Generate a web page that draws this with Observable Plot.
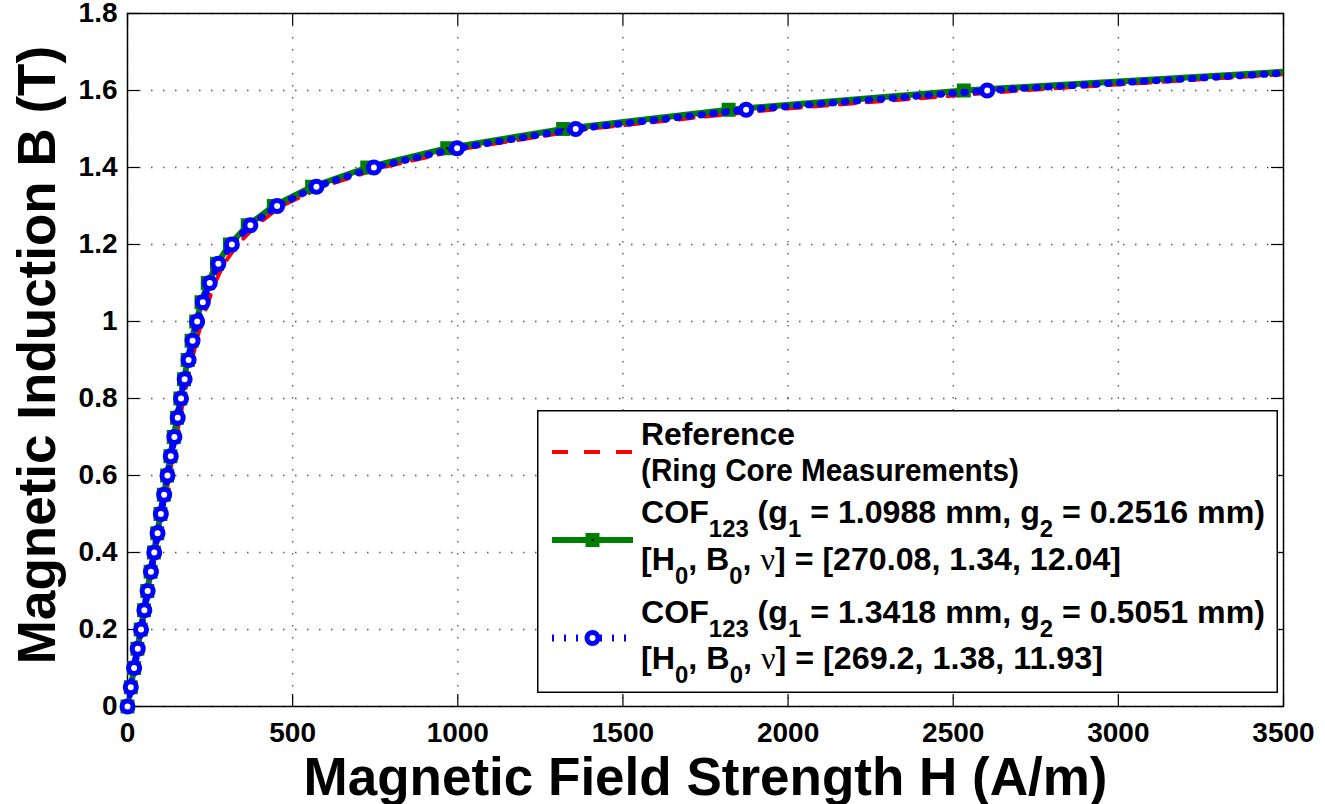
<!DOCTYPE html>
<html><head><meta charset="utf-8">
<script src="https://cdn.jsdelivr.net/npm/d3@7"></script>
<script src="https://cdn.jsdelivr.net/npm/@observablehq/plot@0.6"></script>
<style>
body{margin:0;background:#fff;}
#wrap{position:relative;width:1325px;height:804px;overflow:hidden;}
#legend{position:absolute;left:537px;top:410px;}
#legend text{font-family:'Liberation Sans',Arial,sans-serif;font-weight:bold;white-space:pre;}
</style></head><body><div id="wrap"></div>
<script>
// B levels (T) at which each curve was sampled
const levelsB = [0,0.05,0.1,0.15,0.2,0.25,0.3,0.35,0.4,0.45,0.5,0.55,0.6,0.65,0.7,0.75,0.8,0.85,0.9,0.95,1.0,1.05,1.1,1.15,1.2,1.25,1.3,1.35,1.4,1.45,1.5,1.55,1.6,1.65];
// Reference (ring core measurements), H in A/m
const refH   = [0,11,22,33,43,54,64,75,85,95,106,116,127,137,148,159,170,182,195,209,225,244,265,292,333,390,466,590,770,1025,1390,1950,2700,3650];
// COF123 (g1 = 1.0988 mm, g2 = 0.2516 mm)
const greenH = [0,10,20,30,40,50,60,70,80,90,100,110,120,130,140,150,160,171,182,194,208,224,243,271,310,364,443,559,726,968,1319,1820,2532,3530];
// COF123 (g1 = 1.3418 mm, g2 = 0.5051 mm)
const blueH  = [0,10,20,31,41,51,61,71,81,91,101,111,121,131,142,152,162,173,185,197,211,228,249,275,316,372,453,572,746,998,1357,1873,2603,3600];

const xTicks = [0,500,1000,1500,2000,2500,3000,3500];
const yTicks = [0,0.2,0.4,0.6,0.8,1.0,1.2,1.4,1.6,1.8];
const xLabel = "Magnetic Field Strength H (A/m)";
const yLabel = "Magnetic Induction B (T)";
const legendRef = ["Reference", "(Ring Core Measurements)"];
const legendG = {g1:"1.0988", g2:"0.2516", params:"[270.08, 1.34, 12.04]"};
const legendB = {g1:"1.3418", g2:"0.5051", params:"[269.2, 1.38, 11.93]"};

const W=1325, H=804, mL=127, mR=42, mT=13, mB=98;
const innerW = W-mL-mR, innerH = H-mT-mB;
const rows = hs => hs.map((h,i)=>({H:h, B:levelsB[i]}));
const ref = rows(refH), green = rows(greenH), blue = rows(blueH);
const inView = d => d.H <= 3500;

const plot = Plot.plot({
  width:W, height:H, marginLeft:mL, marginRight:mR, marginTop:mT, marginBottom:mB,
  style:{fontFamily:"'Liberation Sans', Arial, sans-serif", fontSize:"28px", fontWeight:"bold", color:"#000", background:"#fff", overflow:"visible"},
  x:{domain:[0,3500]},
  y:{domain:[0,1.8]},
  marks:[
    Plot.gridX({ticks:xTicks, stroke:"#555", strokeOpacity:1, strokeWidth:1.3, strokeDasharray:"1.5,10.5"}),
    Plot.gridY({ticks:yTicks, stroke:"#555", strokeOpacity:1, strokeWidth:1.3, strokeDasharray:"1.5,10.5"}),
    Plot.frame({stroke:"#000", strokeWidth:1.5}),
    Plot.tickX(xTicks, {x:d=>d, insetTop:innerH-12, stroke:"#000", strokeWidth:1.2}),
    Plot.tickX(xTicks, {x:d=>d, insetBottom:innerH-12, stroke:"#000", strokeWidth:1.2}),
    Plot.tickY(yTicks, {y:d=>d, insetRight:innerW-12, stroke:"#000", strokeWidth:1.2}),
    Plot.tickY(yTicks, {y:d=>d, insetLeft:innerW-12, stroke:"#000", strokeWidth:1.2}),
    Plot.line(ref, {x:"H", y:"B", stroke:"#ff0000", strokeWidth:4, strokeDasharray:"15,12", clip:true}),
    Plot.line(green, {x:"H", y:"B", stroke:"#008000", strokeWidth:6, clip:true}),
    Plot.dot(green.filter(inView), {x:"H", y:"B", symbol:"square", r:7.9, fill:"#008000", stroke:"none"}),
    Plot.dot(green.filter(inView), {x:"H", y:"B", r:1.2, fill:"#000", stroke:"none"}),
    Plot.line(blue, {x:"H", y:"B", stroke:"#0000ff", strokeWidth:7, strokeDasharray:"1.5,10.5", clip:true}),
    Plot.dot(blue.filter(inView), {x:"H", y:"B", r:5.5, stroke:"#0000ff", strokeWidth:5, fill:"#fff"}),
    Plot.axisX({ticks:xTicks, tickSize:0, tickPadding:16, label:null, fontSize:28, fontWeight:"bold", tickFormat:d=>String(d)}),
    Plot.axisY({ticks:yTicks, tickSize:0, tickPadding:10, label:null, fontSize:28, fontWeight:"bold", tickFormat:d=>String(+d.toFixed(1))}),
    Plot.text([xLabel], {frameAnchor:"bottom", lineAnchor:"middle", textAnchor:"middle", dy:72, fontSize:53, fontWeight:"bold"}),
    Plot.text([yLabel], {frameAnchor:"left", lineAnchor:"middle", textAnchor:"middle", rotate:-90, dx:-89, dy:-5, fontSize:53, fontWeight:"bold"})
  ]
});
const wrap = document.getElementById("wrap");
wrap.appendChild(plot);

// Legend
const sub = (s) => `<tspan dy="14" font-size="23">${s}</tspan>`;
const up = (s) => `<tspan dy="-14">${s}</tspan>`;
const fit = (len) => `textLength="${len}" lengthAdjust="spacingAndGlyphs"`;
const cofLine = (y, g1, g2) => `<text x="104" y="${y}" font-size="31" ${fit(624)}>COF${sub("123")}${up(" (g")}${sub("1")}${up(" = "+g1+" mm, g")}${sub("2")}${up(" = "+g2+" mm)")}</text>`;
const parLine = (y, p, len) => `<text x="104" y="${y}" font-size="31" ${fit(len)}>[H${sub("0")}${up(", B")}${sub("0")}${up(", ")}<tspan font-family="'Liberation Serif',serif" font-weight="normal">ν</tspan>] = ${p}</text>`;
const lg = `<svg id="legend" width="741" height="283" xmlns="http://www.w3.org/2000/svg">
<rect x="0.75" y="0.75" width="739.5" height="281.5" fill="#fff" stroke="#000" stroke-width="1.5"/>
<line x1="15" x2="96" y1="42" y2="42" stroke="#ff0000" stroke-width="4" stroke-dasharray="16,16"/>
<line x1="15" x2="96" y1="130" y2="130" stroke="#008000" stroke-width="6"/>
<rect x="48.5" y="123" width="14" height="14" fill="#008000"/>
<circle cx="55.5" cy="130" r="1.2" fill="#000"/>
<line x1="15" x2="96" y1="228" y2="228" stroke="#0000ff" stroke-width="7" stroke-dasharray="2,10"/>
<circle cx="55.5" cy="228" r="5.5" fill="#fff" stroke="#0000ff" stroke-width="5"/>
<text x="104" y="35" font-size="31" ${fit(154)}>${legendRef[0]}</text>
<text x="104" y="71" font-size="31" ${fit(378)}>${legendRef[1]}</text>
${cofLine(113, legendG.g1, legendG.g2)}
${parLine(160, legendG.params, 480)}
${cofLine(213, legendB.g1, legendB.g2)}
${parLine(259, legendB.params, 462)}
</svg>`;
wrap.insertAdjacentHTML("beforeend", lg);
</script></body></html>
